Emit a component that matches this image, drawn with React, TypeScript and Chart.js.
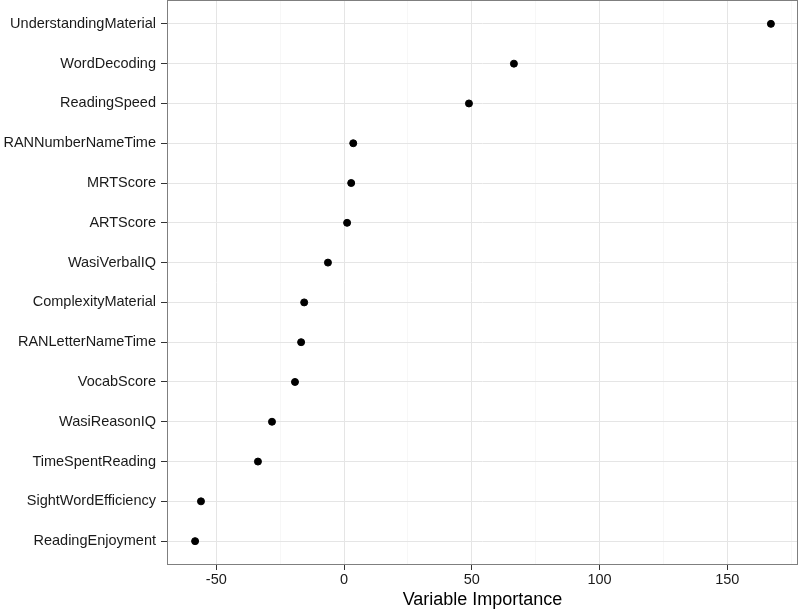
import React, { useEffect, useRef } from "react";
import { Chart, registerables } from "chart.js";

Chart.register(...registerables);

const categories = [
  "UnderstandingMaterial",
  "WordDecoding",
  "ReadingSpeed",
  "RANNumberNameTime",
  "MRTScore",
  "ARTScore",
  "WasiVerbalIQ",
  "ComplexityMaterial",
  "RANLetterNameTime",
  "VocabScore",
  "WasiReasonIQ",
  "TimeSpentReading",
  "SightWordEfficiency",
  "ReadingEnjoyment",
];
const importance = [167.1, 66.5, 48.9, 3.6, 2.8, 1.2, -6.3, -15.6, -16.8, -19.2, -28.2, -33.7, -56.0, -58.3];
const xMajorTicks = [-50, 0, 50, 100, 150];
const xMinorTicks = [-25, 25, 75, 125, 175];
const xTitle = "Variable Importance";

const FONT = "'Liberation Sans', Arial, Helvetica, sans-serif";

const borderPlugin = {
  id: "panelBorder",
  afterDraw(chart: any) {
    const { ctx, chartArea } = chart;
    ctx.save();
    ctx.strokeStyle = "#7f7f7f";
    ctx.lineWidth = 1;
    ctx.strokeRect(chartArea.left + 0.5, chartArea.top + 0.5, chartArea.right - chartArea.left - 1, chartArea.bottom - chartArea.top - 1);
    ctx.restore();
  },
};

export default function App() {
  const ref = useRef<HTMLCanvasElement | null>(null);
  useEffect(() => {
    if (!ref.current) return;
    const allX = [...xMajorTicks, ...xMinorTicks].sort((a, b) => a - b);
    const chart = new Chart(ref.current, {
      type: "scatter",
      data: {
        datasets: [
          {
            data: importance.map((v, i) => ({ x: v, y: i })),
            backgroundColor: "#000",
            borderColor: "#000",
            pointRadius: 3.5,
            pointHoverRadius: 3.5,
          },
        ],
      },
      options: {
        animation: false,
        responsive: false,
        maintainAspectRatio: false,
        layout: { autoPadding: false, padding: { top: 0, right: 2, left: 0, bottom: 0 } },
        plugins: { legend: { display: false }, tooltip: { enabled: false } },
        scales: {
          x: {
            type: "linear",
            min: -69.3,
            max: 177.7,
            afterBuildTicks: (scale: any) => {
              scale.ticks = allX.map((v) => ({ value: v }));
            },
            afterFit: (scale: any) => {
              scale.height = 44;
              scale.paddingLeft = 0;
              scale.paddingRight = 0;
            },
            border: { display: false },
            grid: {
              color: (c: any) => (xMajorTicks.includes(c.tick?.value) ? "#e5e5e5" : "#f7f7f7"),
              lineWidth: 1,
              drawTicks: true,
              tickLength: 5,
              tickColor: (c: any) => (xMajorTicks.includes(c.tick?.value) ? "#333333" : "rgba(0,0,0,0)"),
              tickWidth: 1,
            },
            ticks: {
              autoSkip: false,
              maxRotation: 0,
              padding: 1,
              color: "#1a1a1a",
              font: { family: FONT, size: 14.5 },
              callback: (v: any) => (xMajorTicks.includes(v) ? String(v) : ""),
            },
            title: {
              display: true,
              text: xTitle,
              color: "#000",
              font: { family: FONT, size: 18, lineHeight: 0.95 },
              padding: { top: 3, bottom: 0 },
            },
          },
          y: {
            type: "linear",
            reverse: true,
            min: -0.6,
            max: 13.6,
            afterBuildTicks: (scale: any) => {
              scale.ticks = categories.map((_, i) => ({ value: i }));
            },
            afterFit: (scale: any) => {
              scale.width = 167;
              scale.paddingTop = 0;
              scale.paddingBottom = 0;
            },
            border: { display: false },
            grid: {
              color: "#e5e5e5",
              lineWidth: 1,
              drawTicks: true,
              tickLength: 6,
              tickColor: "#333333",
              tickWidth: 1,
            },
            ticks: {
              autoSkip: false,
              padding: 5,
              color: "#1a1a1a",
              font: { family: FONT, size: 14.5 },
              callback: (v: any) => categories[v] ?? "",
            },
          },
        },
      },
      plugins: [borderPlugin],
    } as any);
    return () => chart.destroy();
  }, []);
  return (
    <div style={{ position: "absolute", left: 0, top: 0, width: 800, height: 609, background: "#fff" }}>
      <canvas ref={ref} width={800} height={609} style={{ width: 800, height: 609 }} />
    </div>
  );
}
